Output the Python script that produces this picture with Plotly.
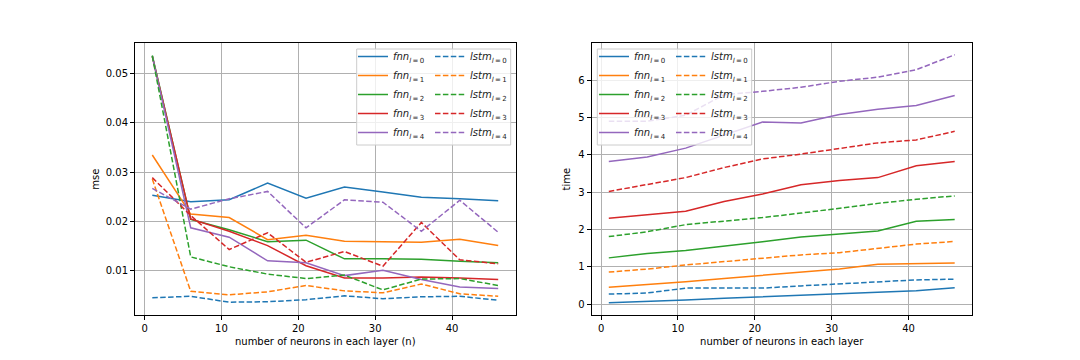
import plotly.graph_objects as go

# number of neurons in each layer
neurons = [1, 6, 11, 16, 21, 26, 31, 36, 41, 46]
layers = [0, 1, 2, 3, 4]

# mse (left panel)
mse_fnn = {
    0: [0.0253, 0.0240, 0.0244, 0.0278, 0.0247, 0.0270, 0.0260, 0.0249, 0.0246, 0.0242],
    1: [0.0335, 0.0215, 0.0208, 0.0163, 0.0172, 0.0160, 0.0159, 0.0158, 0.0164, 0.0151],
    2: [0.0537, 0.0204, 0.0183, 0.0159, 0.0162, 0.0124, 0.0124, 0.0123, 0.0119, 0.0116],
    3: [0.0535, 0.0205, 0.0180, 0.0151, 0.0110, 0.0085, 0.0085, 0.0087, 0.0085, 0.0082],
    4: [0.0536, 0.0187, 0.0168, 0.0120, 0.0116, 0.0090, 0.0101, 0.0082, 0.0067, 0.0064],
}
mse_lstm = {
    0: [0.0045, 0.0048, 0.0036, 0.0037, 0.0041, 0.0049, 0.0043, 0.0047, 0.0048, 0.0040],
    1: [0.0286, 0.0058, 0.0051, 0.0057, 0.0070, 0.0059, 0.0055, 0.0073, 0.0053, 0.0048],
    2: [0.0536, 0.0128, 0.0108, 0.0093, 0.0084, 0.0091, 0.0061, 0.0083, 0.0084, 0.0070],
    3: [0.0289, 0.0212, 0.0143, 0.0177, 0.0117, 0.0139, 0.0109, 0.0198, 0.0122, 0.0114],
    4: [0.0267, 0.0225, 0.0246, 0.0261, 0.0187, 0.0244, 0.0239, 0.0180, 0.0243, 0.0178],
}

# time (right panel)
time_fnn = {
    0: [0.04, 0.07, 0.11, 0.16, 0.20, 0.23, 0.28, 0.31, 0.36, 0.44],
    1: [0.45, 0.52, 0.60, 0.69, 0.77, 0.86, 0.94, 1.07, 1.09, 1.10],
    2: [1.24, 1.36, 1.44, 1.55, 1.67, 1.80, 1.87, 1.96, 2.22, 2.27],
    3: [2.30, 2.39, 2.49, 2.75, 2.95, 3.20, 3.31, 3.39, 3.71, 3.82],
    4: [3.82, 3.94, 4.18, 4.54, 4.88, 4.85, 5.08, 5.22, 5.32, 5.59],
}
time_lstm = {
    0: [0.27, 0.30, 0.43, 0.43, 0.43, 0.49, 0.54, 0.58, 0.65, 0.67],
    1: [0.86, 0.94, 1.05, 1.14, 1.25, 1.32, 1.38, 1.49, 1.61, 1.68],
    2: [1.81, 1.94, 2.13, 2.22, 2.32, 2.44, 2.57, 2.70, 2.81, 2.90],
    3: [3.02, 3.20, 3.39, 3.66, 3.89, 4.02, 4.16, 4.32, 4.40, 4.63],
    4: [4.90, 4.90, 5.06, 5.61, 5.70, 5.81, 5.97, 6.08, 6.28, 6.68],
}

COLORS = ['#1f77b4', '#ff7f0e', '#2ca02c', '#d62728', '#9467bd']
FONT = 'DejaVu Sans'
W, H = 1080, 360
OFF = 8  # page body margin in the browser shifts everything by 8px


def px_x(p):
    return (p - OFF) / W


def px_y(p):
    return 1 - (p - OFF) / H


def label(name, l):
    return f"<i>{name}</i><sub><i>l</i>\u2009=\u2009{l}</sub>"


fig = go.Figure()

for col, (fnn, lstm) in enumerate([(mse_fnn, mse_lstm), (time_fnn, time_lstm)]):
    xa = 'x' if col == 0 else 'x2'
    ya = 'y' if col == 0 else 'y2'
    leg_a = 'legend' if col == 0 else 'legend3'
    leg_b = 'legend2' if col == 0 else 'legend4'
    for l in layers:
        fig.add_trace(go.Scatter(
            x=neurons, y=fnn[l], mode='lines', name=label('fnn', l),
            line=dict(color=COLORS[l], width=1.5),
            xaxis=xa, yaxis=ya, legend=leg_a,
        ))
    for l in layers:
        fig.add_trace(go.Scatter(
            x=neurons, y=lstm[l], mode='lines', name=label('lstm', l),
            line=dict(color=COLORS[l], width=1.5, dash='5.5px,2.4px'),
            xaxis=xa, yaxis=ya, legend=leg_b,
        ))

axis_common = dict(
    showline=True, mirror=True, linecolor='black', linewidth=1,
    showgrid=True, gridcolor='#b0b0b0', gridwidth=1,
    ticks='outside', ticklen=4, tickwidth=1, tickcolor='black',
    tickfont=dict(family=FONT, size=10, color='black'),
    zeroline=False,
)
title_font = dict(family=FONT, size=10, color='black')
y_dom = [px_y(315), px_y(43.2)]

fig.update_layout(
    xaxis=dict(axis_common, domain=[px_x(135), px_x(515.5)], range=[-1.25, 48.25],
               tick0=0, dtick=10, anchor='y',
               title=dict(text='number of neurons in each layer (n)', standoff=4,
                          font=title_font)),
    yaxis=dict(axis_common, domain=y_dom, range=[0.001, 0.0562],
               tick0=0, dtick=0.01, tickformat='.2f', anchor='x',
               title=dict(text='mse', standoff=4, font=title_font)),
    xaxis2=dict(axis_common, domain=[px_x(591.5), px_x(972)], range=[-1.25, 48.25],
                tick0=0, dtick=10, anchor='y2',
                title=dict(text='number of neurons in each layer', standoff=4,
                           font=title_font)),
    yaxis2=dict(axis_common, domain=y_dom, range=[-0.29, 6.99],
                tick0=0, dtick=1, anchor='x2',
                title=dict(text='time', standoff=5, font=title_font)),
)

# legends: two columns per panel, drawn over a shared box
leg_style = dict(
    bgcolor='rgba(0,0,0,0)', borderwidth=0, xanchor='left', yanchor='top',
    font=dict(family=FONT, size=10, color='#222222'), tracegroupgap=0,
    itemclick=False,
)
leg_top = px_y(42)
fig.update_layout(
    legend=dict(leg_style, x=px_x(353), y=leg_top),
    legend2=dict(leg_style, x=px_x(430), y=leg_top),
    legend3=dict(leg_style, x=px_x(594), y=leg_top),
    legend4=dict(leg_style, x=px_x(671), y=leg_top),
)

for x0, x1 in [(356.7, 510.7), (597.3, 751.7)]:
    fig.add_shape(
        type='rect', xref='paper', yref='paper', layer='above',
        x0=px_x(x0), x1=px_x(x1), y0=px_y(145), y1=px_y(49),
        line=dict(color='#cccccc', width=1), fillcolor='rgba(255,255,255,0.8)',
    )

fig.update_layout(
    width=W, height=H, autosize=False,
    margin=dict(l=0, r=0, t=0, b=0),
    paper_bgcolor='white', plot_bgcolor='white',
    font=dict(family=FONT, size=10, color='black'),
    showlegend=True,
)

fig.write_html("out.html")
